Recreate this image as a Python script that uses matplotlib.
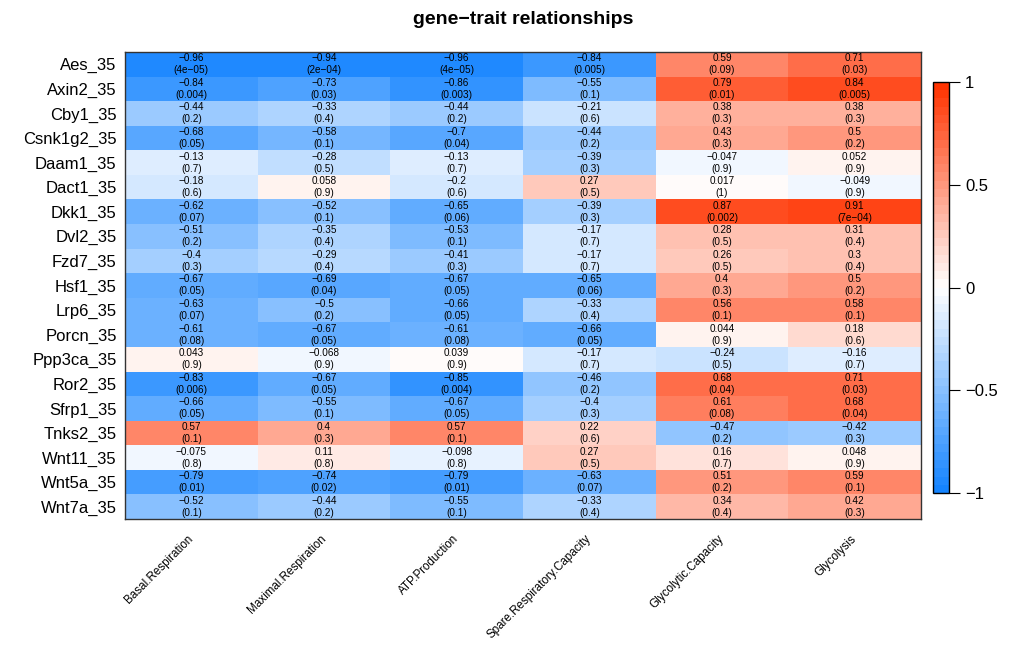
import numpy as np
import matplotlib
matplotlib.use("Agg")
import matplotlib.pyplot as plt
from matplotlib.colors import LinearSegmentedColormap

plt.rcParams['font.family'] = ['Liberation Sans', 'DejaVu Sans']

genes = ["Aes_35", "Axin2_35", "Cby1_35", "Csnk1g2_35", "Daam1_35", "Dact1_35",
         "Dkk1_35", "Dvl2_35", "Fzd7_35", "Hsf1_35", "Lrp6_35", "Porcn_35",
         "Ppp3ca_35", "Ror2_35", "Sfrp1_35", "Tnks2_35", "Wnt11_35", "Wnt5a_35",
         "Wnt7a_35"]
traits = ["Basal.Respiration", "Maximal.Respiration", "ATP.Production",
          "Spare.Respiratory.Capacity", "Glycolytic.Capacity", "Glycolysis"]

# correlation values (rows = genes, cols = traits)
cor_text = [
    ["-0.96", "-0.94", "-0.96", "-0.84", "0.59", "0.71"],
    ["-0.84", "-0.73", "-0.86", "-0.55", "0.79", "0.84"],
    ["-0.44", "-0.33", "-0.44", "-0.21", "0.38", "0.38"],
    ["-0.68", "-0.58", "-0.7", "-0.44", "0.43", "0.5"],
    ["-0.13", "-0.28", "-0.13", "-0.39", "-0.047", "0.052"],
    ["-0.18", "0.058", "-0.2", "0.27", "0.017", "-0.049"],
    ["-0.62", "-0.52", "-0.65", "-0.39", "0.87", "0.91"],
    ["-0.51", "-0.35", "-0.53", "-0.17", "0.28", "0.31"],
    ["-0.4", "-0.29", "-0.41", "-0.17", "0.26", "0.3"],
    ["-0.67", "-0.69", "-0.67", "-0.65", "0.4", "0.5"],
    ["-0.63", "-0.5", "-0.66", "-0.33", "0.56", "0.58"],
    ["-0.61", "-0.67", "-0.61", "-0.66", "0.044", "0.18"],
    ["0.043", "-0.068", "0.039", "-0.17", "-0.24", "-0.16"],
    ["-0.83", "-0.67", "-0.85", "-0.46", "0.68", "0.71"],
    ["-0.66", "-0.55", "-0.67", "-0.4", "0.61", "0.68"],
    ["0.57", "0.4", "0.57", "0.22", "-0.47", "-0.42"],
    ["-0.075", "0.11", "-0.098", "0.27", "0.16", "0.048"],
    ["-0.79", "-0.74", "-0.79", "-0.63", "0.51", "0.59"],
    ["-0.52", "-0.44", "-0.55", "-0.33", "0.34", "0.42"],
]
p_text = [
    ["4e-05", "2e-04", "4e-05", "0.005", "0.09", "0.03"],
    ["0.004", "0.03", "0.003", "0.1", "0.01", "0.005"],
    ["0.2", "0.4", "0.2", "0.6", "0.3", "0.3"],
    ["0.05", "0.1", "0.04", "0.2", "0.3", "0.2"],
    ["0.7", "0.5", "0.7", "0.3", "0.9", "0.9"],
    ["0.6", "0.9", "0.6", "0.5", "1", "0.9"],
    ["0.07", "0.1", "0.06", "0.3", "0.002", "7e-04"],
    ["0.2", "0.4", "0.1", "0.7", "0.5", "0.4"],
    ["0.3", "0.4", "0.3", "0.7", "0.5", "0.4"],
    ["0.05", "0.04", "0.05", "0.06", "0.3", "0.2"],
    ["0.07", "0.2", "0.05", "0.4", "0.1", "0.1"],
    ["0.08", "0.05", "0.08", "0.05", "0.9", "0.6"],
    ["0.9", "0.9", "0.9", "0.7", "0.5", "0.7"],
    ["0.006", "0.05", "0.004", "0.2", "0.04", "0.03"],
    ["0.05", "0.1", "0.05", "0.3", "0.08", "0.04"],
    ["0.1", "0.3", "0.1", "0.6", "0.2", "0.3"],
    ["0.8", "0.8", "0.8", "0.5", "0.7", "0.9"],
    ["0.01", "0.02", "0.01", "0.07", "0.2", "0.1"],
    ["0.1", "0.2", "0.1", "0.4", "0.4", "0.3"],
]

cor = np.array([[float(v) for v in row] for row in cor_text])

cmap = LinearSegmentedColormap.from_list(
    "bwr_wgcna", ["#1584ff", "#ffffff", "#ff3300"], N=50)

fig = plt.figure(figsize=(10.12, 6.45), dpi=100)
ax = fig.add_axes([125 / 1012, 1 - 519 / 645, 796 / 1012, 467 / 645])
nr, nc = cor.shape
mesh = ax.pcolormesh(np.arange(nc + 1), np.arange(nr + 1), cor, cmap=cmap,
                     vmin=-1, vmax=1)
ax.set_xlim(0, nc)
ax.set_ylim(nr, 0)

for i in range(nr):
    for j in range(nc):
        txt = cor_text[i][j].replace("-", "\u2212") + "\n(" + \
            p_text[i][j].replace("-", "\u2212") + ")"
        ax.text(j + 0.5, i + 0.5, txt, ha='center', va='center',
                fontsize=7.2, linespacing=1.25, color='black')

ax.set_yticks(np.arange(nr) + 0.5)
ax.set_yticklabels(genes, fontsize=12)
ax.set_xticks(np.arange(nc) + 0.5)
ax.set_xticklabels(traits, fontsize=8.4, rotation=45, ha='right',
                   va='center', rotation_mode='anchor')
ax.tick_params(axis='both', length=0)
ax.tick_params(axis='x', pad=13)
ax.tick_params(axis='y', pad=6)
for s in ax.spines.values():
    s.set_color('#333333')
    s.set_linewidth(1)

ax.set_title("gene\u2212trait relationships", fontsize=14, fontweight='bold',
             pad=20)

cax = fig.add_axes([933 / 1012, 1 - 493 / 645, 16 / 1012, 411 / 645])
cb = fig.colorbar(mesh, cax=cax, ticks=[-1, -0.5, 0, 0.5, 1])
cb.ax.set_yticklabels(["\u22121", "\u22120.5", "0", "0.5", "1"], fontsize=12)
cb.ax.tick_params(length=8, width=0.8)
cb.outline.set_linewidth(1)

fig.savefig("out.png", dpi=100)
